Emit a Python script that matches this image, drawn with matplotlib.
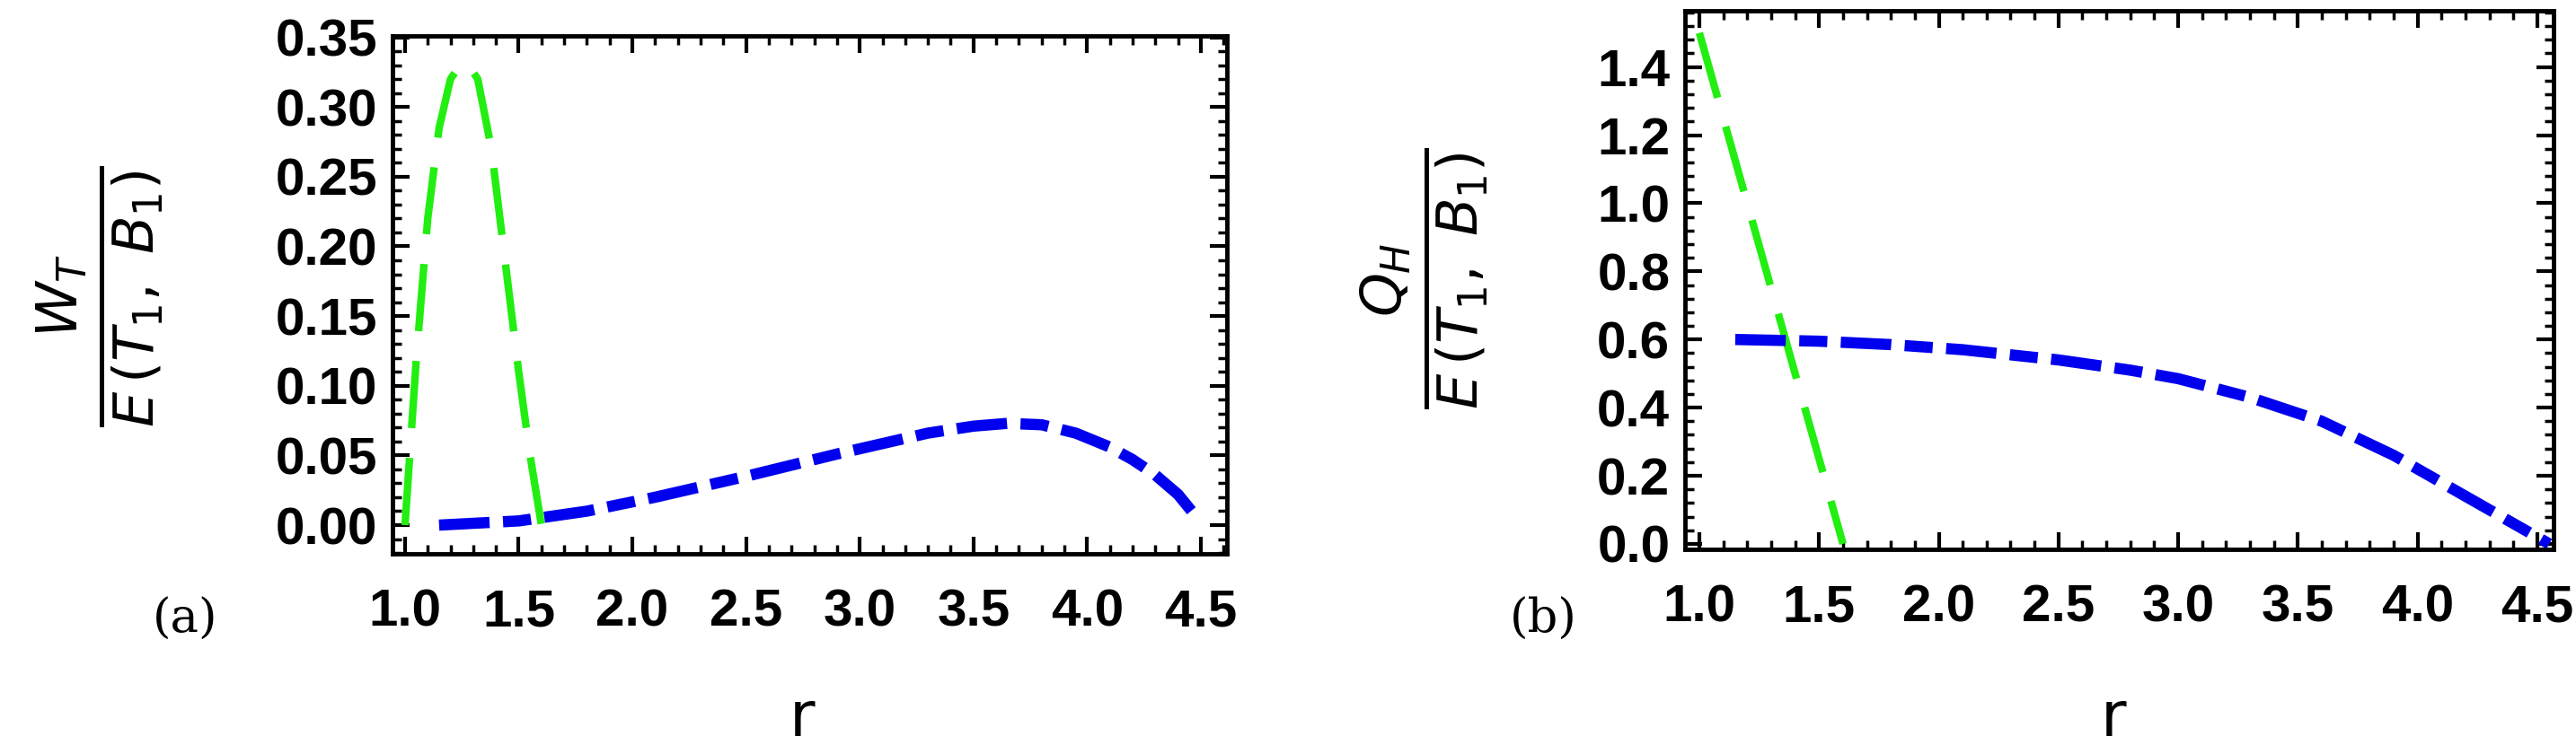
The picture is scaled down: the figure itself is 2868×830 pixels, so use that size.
import matplotlib
matplotlib.use("Agg")
import matplotlib.pyplot as plt
import numpy as np
from matplotlib.ticker import AutoMinorLocator

# Panel (a) data
a_green_r = [1.00, 1.05, 1.10, 1.15, 1.20, 1.25, 1.28, 1.32, 1.38, 1.44, 1.50, 1.55, 1.60]
a_green_w = [0.00, 0.12, 0.22, 0.285, 0.32, 0.332, 0.33, 0.32, 0.27, 0.19, 0.11, 0.05, 0.00]
a_blue_r = [1.15, 1.5, 1.8, 2.1, 2.5, 2.9, 3.3, 3.5, 3.65, 3.8, 3.95, 4.1, 4.2, 4.3, 4.4, 4.48]
a_blue_w = [0.000, 0.003, 0.010, 0.020, 0.035, 0.051, 0.066, 0.071, 0.073, 0.072, 0.066, 0.056, 0.047, 0.036, 0.022, 0.006]

# Panel (b) data
b_green_r = [1.00, 1.60]
b_green_q = [1.50, 0.00]
b_blue_r = [1.15, 1.5, 1.8, 2.1, 2.5, 2.8, 3.0, 3.3, 3.6, 3.9, 4.2, 4.4, 4.55]
b_blue_q = [0.600, 0.595, 0.585, 0.570, 0.540, 0.510, 0.485, 0.430, 0.360, 0.260, 0.140, 0.060, 0.000]

xticks = [1.0, 1.5, 2.0, 2.5, 3.0, 3.5, 4.0, 4.5]
a_yticks = [0.00, 0.05, 0.10, 0.15, 0.20, 0.25, 0.30, 0.35]
b_yticks = [0.0, 0.2, 0.4, 0.6, 0.8, 1.0, 1.2, 1.4]

plt.rcParams['mathtext.fontset'] = 'dejavusans'
tickfont = {'family': ['Liberation Sans', 'DejaVu Sans'], 'weight': 'bold', 'size': 42}

W, H = 2868, 830
fig = plt.figure(figsize=(W/100, H/100), dpi=100)

GREEN = '#22ee11'
BLUE = '#0000ee'
GDASH = (9, 4)
BDASH = (4.5, 1.2, 2.5, 1.2)

def setup(ax, yticks, yfmt):
    for s in ax.spines.values():
        s.set_linewidth(3.5)
    ax.set_xticks(xticks)
    ax.set_xticklabels([f"{t:.1f}" for t in xticks], fontdict=tickfont)
    ax.set_yticks(yticks)
    ax.set_yticklabels([yfmt.format(t) for t in yticks], fontdict=tickfont)
    ax.minorticks_on()
    ax.tick_params(which='major', direction='in', length=14, width=3, top=True, right=True, pad=12)
    ax.tick_params(which='minor', direction='in', length=7, width=2.5, top=True, right=True)
    ax.tick_params(axis='x', which='major', pad=28)
    ax.xaxis.set_minor_locator(AutoMinorLocator(5))
    ax.yaxis.set_minor_locator(AutoMinorLocator(5))

# Panel (a)
ax1 = fig.add_axes([437/W, 1-617/H, (1366-437)/W, (617-40)/H])
ax1.plot(a_green_r, a_green_w, color=GREEN, lw=6, dashes=GDASH)
ax1.plot(a_blue_r, a_blue_w, color=BLUE, lw=9, dashes=BDASH)
ax1.set_xlim(0.945, 4.615)
ax1.set_ylim(-0.0206, 0.351)
setup(ax1, a_yticks, "{:.2f}")

# Panel (b)
ax2 = fig.add_axes([1876/W, 1-612/H, (2843-1876)/W, (612-12)/H])
ax2.plot(b_green_r, b_green_q, color=GREEN, lw=6, dashes=GDASH)
ax2.plot(b_blue_r, b_blue_q, color=BLUE, lw=9, dashes=BDASH)
ax2.set_xlim(0.94, 4.568)
ax2.set_ylim(-0.016, 1.565)
setup(ax2, b_yticks, "{:.1f}")

# y labels (fractions)
fig.text(112/W, 1-330/H, r'$\frac{W_T}{E\,(T_1,\ B_1)}$',
         rotation=90, ha='center', va='center', fontsize=64)
fig.text((1468+118)/W, 1-310/H, r'$\frac{Q_H}{E\,(T_1,\ B_1)}$',
         rotation=90, ha='center', va='center', fontsize=64)

# panel letters
fig.text(206/W, 1-690/H, '(a)', family='DejaVu Serif', fontsize=38, ha='center', va='center')
fig.text((1468+250)/W, 1-690/H, '(b)', family='DejaVu Serif', fontsize=38, ha='center', va='center')

# x labels
fig.text(893/W, 1-800/H, 'r', fontsize=50, ha='center', va='center', family='DejaVu Sans')
fig.text((1468+885)/W, 1-800/H, 'r', fontsize=50, ha='center', va='center', family='DejaVu Sans')

fig.savefig('out.png', dpi=100)
